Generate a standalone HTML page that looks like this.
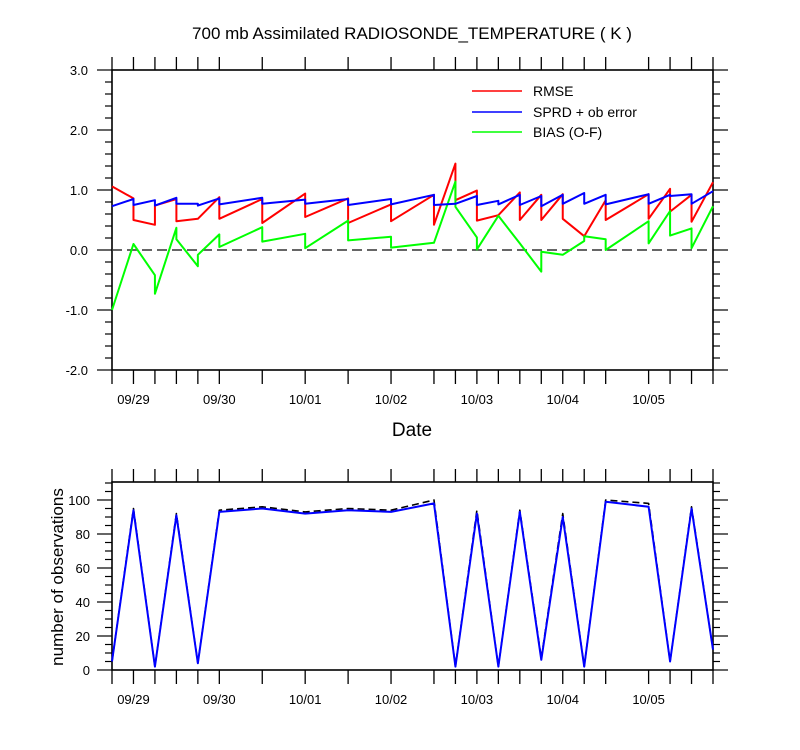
<!DOCTYPE html>
<html><head><meta charset="utf-8"><style>
body{margin:0;background:#fff}
svg{display:block;font-family:"Liberation Sans",Arial,sans-serif}
</style></head><body>
<svg id="chart" width="800" height="750" viewBox="0 0 800 750" xmlns="http://www.w3.org/2000/svg">
<text x="412" y="39" font-size="17" text-anchor="middle">700 mb Assimilated RADIOSONDE_TEMPERATURE ( K )</text>
<g id="topPanel"></g>
<text x="412" y="436" font-size="19" text-anchor="middle">Date</text>
<g id="botPanel"></g>
<text transform="translate(63,577) rotate(-90)" font-size="17" text-anchor="middle">number of observations</text>
<g>
<line x1="472" y1="91" x2="522" y2="91" stroke="#f00" stroke-width="1.5"/>
<text x="533" y="96" font-size="14">RMSE</text>
<line x1="472" y1="112" x2="522" y2="112" stroke="#00f" stroke-width="1.5"/>
<text x="533" y="117" font-size="14">SPRD + ob error</text>
<line x1="472" y1="132" x2="522" y2="132" stroke="#0f0" stroke-width="1.5"/>
<text x="533" y="137" font-size="14">BIAS (O-F)</text>
</g>
</svg>
<script>
// time index in 6-hour steps from 09/28 18Z
const times = [0,1,2,3,4,5,7,9,11,13,15,16,17,18,19,20,21,22,23,25,26,27,28];
const rmseIn  = [1.06,0.86,0.42,0.85,0.52,0.88,0.85,0.94,0.86,0.76,0.92,1.44,0.99,0.58,0.96,0.92,0.93,0.23,0.83,0.93,1.02,0.92,1.13];
const rmseOut = [1.06,0.50,0.74,0.48,0.52,0.52,0.45,0.55,0.45,0.48,0.42,0.83,0.49,0.58,0.50,0.50,0.52,0.23,0.50,0.52,0.64,0.47,1.13];
const sprdIn  = [0.73,0.85,0.83,0.87,0.77,0.86,0.87,0.84,0.85,0.85,0.92,0.77,0.90,0.82,0.92,0.90,0.92,0.95,0.92,0.93,0.92,0.93,0.98];
const sprdOut = [0.73,0.75,0.74,0.77,0.74,0.76,0.77,0.77,0.75,0.76,0.75,0.77,0.75,0.76,0.75,0.73,0.77,0.77,0.76,0.77,0.90,0.77,0.98];
const biasIn  = [-1.00,0.10,-0.42,0.37,-0.27,0.26,0.38,0.27,0.49,0.22,0.12,1.14,0.21,0.57,0.11,-0.36,-0.08,0.15,0.18,0.48,0.65,0.36,0.73];
const biasOut = [-1.00,0.10,-0.73,0.18,-0.08,0.05,0.14,0.03,0.16,0.04,0.12,0.72,0.01,0.57,0.11,-0.03,-0.08,0.23,0.00,0.11,0.24,0.03,0.73];
const obsUsed  = [5,94,2,91,4,93,95,92,94,93,98,2,92,2,93,6,90,2,99,96,5,95,12];
const obsTotal = [5,95,2,92,4,94,96,93,95,94,100,2,94,2,94,7,92,2,100,98,5,96,12];
const yTicksTop = [3.0,2.0,1.0,0.0,-1.0,-2.0];
const yTicksBot = [0,20,40,60,80,100];
const dateLabels = ["09/29","09/30","10/01","10/02","10/03","10/04","10/05"];
const dateTimes = [1,5,9,13,17,21,25];

const NS="http://www.w3.org/2000/svg";
const X0=112,X1=713;
const xs=t=>X0+(X1-X0)*t/28;
const yT=v=>250-v*60;
const yB=v=>670-v*1.7;
function mk(p,tag,at){const e=document.createElementNS(NS,tag);for(const k in at)e.setAttribute(k,at[k]);p.appendChild(e);return e;}
const topG=document.getElementById('topPanel'),botG=document.getElementById('botPanel');

function frame(g,yt,yb,name){
  const r=mk(g,'rect',{x:X0,y:yt,width:X1-X0,height:yb-yt,fill:'none',stroke:'#000','stroke-width':1.6});
  
  
  times.forEach(t=>{
    const a=mk(g,'line',{x1:xs(t),x2:xs(t),y1:yt,y2:yt-13,stroke:'#000','stroke-width':1.3});
    
    
    const b=mk(g,'line',{x1:xs(t),x2:xs(t),y1:yb,y2:yb+14,stroke:'#000','stroke-width':1.3});
    
    
  });
  dateLabels.forEach((d,i)=>{
    const tx=mk(g,'text',{x:xs(dateTimes[i]),y:yb+34,'font-size':13,'text-anchor':'middle'});
    tx.textContent=d;
    
    
  });
}
function yaxis(g,ticks,minStep,lo,hi,yf,fmt,lblX){
  for(let v=lo;v<=hi+1e-9;v+=minStep){
    const major=ticks.some(t=>Math.abs(t-v)<1e-6);
    const len=major?15:7;
    const l=mk(g,'line',{x1:X0,x2:X0-len,y1:yf(v),y2:yf(v),stroke:'#000','stroke-width':1.2});
    
    
    const r=mk(g,'line',{x1:X1,x2:X1+len,y1:yf(v),y2:yf(v),stroke:'#000','stroke-width':1.2});
    
    
  }
  ticks.forEach(v=>{
    const tx=mk(g,'text',{x:lblX,y:yf(v)+5,'font-size':13,'text-anchor':'end'});
    tx.textContent=fmt(v);
    
    
  });
}
function saw(g,ina,outa,color,name){
  let d='';
  times.forEach((t,i)=>{
    d+=(i?'L':'M')+xs(t)+','+yT(ina[i]);
    if(outa[i]!==ina[i]) d+='L'+xs(t)+','+yT(outa[i]);
  });
  const p=mk(g,'path',{d:d,fill:'none',stroke:color,'stroke-width':2,'stroke-linejoin':'round'});
  
  
}
function line(g,vals,color,dash,name,w){
  const d=times.map((t,i)=>(i?'L':'M')+xs(t)+','+yB(vals[i])).join('');
  const at={d:d,fill:'none',stroke:color,'stroke-width':w,'stroke-linejoin':'round'};
  if(dash)at['stroke-dasharray']=dash;
  const p=mk(g,'path',at);
  
  
}

// top panel
frame(topG,70,370,'stats-frame');
yaxis(topG,yTicksTop,0.2,-2,3,yT,v=>v.toFixed(1),88);
const z=mk(topG,'line',{x1:X0,x2:X1,y1:yT(0),y2:yT(0),stroke:'#333','stroke-width':1.6,'stroke-dasharray':'10,5'});


saw(topG,rmseIn,rmseOut,'#f00','rmse-line');
saw(topG,biasIn,biasOut,'#0f0','bias-line');
saw(topG,sprdIn,sprdOut,'#00f','sprd-line');

// bottom panel
frame(botG,482,670,'obs-frame');
yaxis(botG,yTicksBot,5,0,110,yB,v=>String(v),90);
line(botG,obsTotal,'#000','7,4','obs-total-line',1.6);
line(botG,obsUsed,'#00f',null,'obs-used-line',2);
</script>
</body></html>
